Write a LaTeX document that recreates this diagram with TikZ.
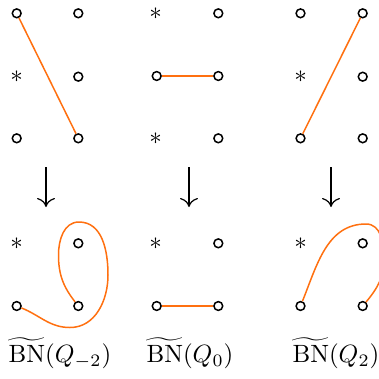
\documentclass[tikz,border=0pt]{standalone}
\usetikzlibrary{arrows.meta}
\definecolor{curveorange}{RGB}{255,112,16}
\begin{document}
\begin{tikzpicture}[x=1pt,y=-1pt,
  dot/.style={circle,draw=black,line width=1.5pt,inner sep=0pt,minimum size=8.8pt,fill=white},
  star/.style={inner sep=0pt,scale=2.5},
  lbl/.style={inner sep=0pt,scale=2.5},
  curve/.style={draw=curveorange,line width=1.5pt},
  maparrow/.style={line width=1.2pt,-{Computer Modern Rightarrow[length=9pt,width=18pt,line width=1.2pt]}}]
\useasboundingbox (0,0) rectangle (379,378);
\clip (0,0) rectangle (379,378);
% ---- top row, column 1
\node[dot] (a11) at (16.7,13.3) {};
\node[dot] (a12) at (78.3,13.3) {};
\node[star] (a21) at (16.7,76.7) {$\ast$};
\node[dot] (a22) at (78.3,76.7) {};
\node[dot] (a31) at (16.7,138.3) {};
\node[dot] (a32) at (78.3,138.3) {};
% ---- top row, column 2
\node[star] (b11) at (155.5,13.3) {$\ast$};
\node[dot] (b12) at (218.3,13.3) {};
\node[dot] (b21) at (156.7,76.0) {};
\node[dot] (b22) at (218.3,76.0) {};
\node[star] (b31) at (155.5,138.3) {$\ast$};
\node[dot] (b32) at (218.3,138.3) {};
% ---- top row, column 3
\node[dot] (c11) at (300.5,13.3) {};
\node[dot] (c12) at (362.7,13.3) {};
\node[star] (c21) at (300.5,76.7) {$\ast$};
\node[dot] (c22) at (362.7,76.7) {};
\node[dot] (c31) at (300.5,138.3) {};
\node[dot] (c32) at (362.7,138.3) {};
% ---- straight connectors
\draw[curve] (a11) -- (a32);
\draw[curve] (b21) -- (b22);
\draw[curve] (c31) -- (c12);
% ---- arrows
\coordinate (ar1s) at (46,167); \coordinate (ar1e) at (46,207);
\coordinate (ar2s) at (189,167); \coordinate (ar2e) at (189,207);
\coordinate (ar3s) at (331,167); \coordinate (ar3e) at (331,207);
\draw[maparrow] (ar1s) -- (ar1e);
\draw[maparrow] (ar2s) -- (ar2e);
\draw[maparrow] (ar3s) -- (ar3e);
% ---- bottom row, column 1
\node[star] (d1) at (16.7,243.3) {$\ast$};
\node[dot] (d2) at (78.3,243.3) {};
\node[dot] (d3) at (16.7,306) {};
\node[dot] (d4) at (78.3,306) {};
\coordinate (p1) at (70,327.5);
\coordinate (p2) at (108,275);
\coordinate (p3) at (79,222);
\coordinate (p4) at (58.5,255);
\draw[curve] (d3) to[out=-22,in=180] (p1) to[out=0,in=-90] (p2)
  to[out=90,in=0] (p3) to[out=180,in=90] (p4) to[out=-90,in=128] (d4);
% ---- bottom row, column 2
\node[star] (e1) at (155.5,243.3) {$\ast$};
\node[dot] (e2) at (218.3,243.3) {};
\node[dot] (e3) at (156.7,306) {};
\node[dot] (e4) at (218.3,306) {};
\draw[curve] (e3) -- (e4);
% ---- bottom row, column 3
\node[star] (f1) at (300.5,243.3) {$\ast$};
\node[dot] (f2) at (362.7,243.3) {};
\node[dot] (f3) at (300.5,306) {};
\node[dot] (f4) at (362.7,306) {};
\coordinate (q1) at (366,224);
\coordinate (q2) at (384,258);
\draw[curve] (f3) to[out=68,in=180] (q1) to[out=0,in=90] (q2)
  to[out=-90,in=50] (f4);
% ---- labels
\node[lbl] (l1) at (60,353) {$\widetilde{\mathrm{BN}}(Q_{-2})$};
\node[lbl] (l2) at (190,353) {$\widetilde{\mathrm{BN}}(Q_{0})$};
\node[lbl] (l3) at (336,353) {$\widetilde{\mathrm{BN}}(Q_{2})$};
\end{tikzpicture}
\end{document}
